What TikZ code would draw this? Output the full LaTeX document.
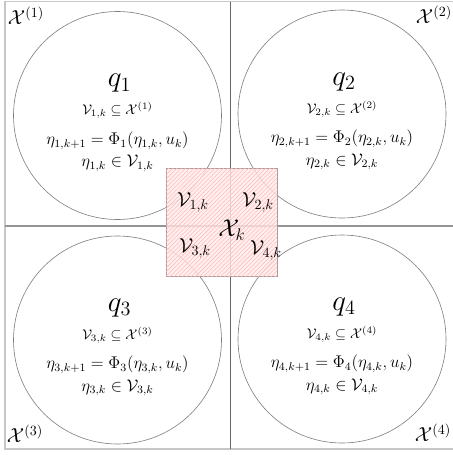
\documentclass[tikz,border=0pt]{standalone}
\usepackage{amsmath,amssymb}
\usetikzlibrary{patterns}
\begin{document}
\begin{tikzpicture}[x=0.025cm, y=-0.025cm,
    frame/.style={draw=black!22, line width=1.3pt},
    divider/.style={draw=black!60, line width=0.7pt},
    mode/.style={draw=black!50, line width=0.45pt},
    overlap/.style={draw=red!25!black!40, line width=0.6pt, fill=red!8, fill opacity=0.8,
        postaction={pattern=north east lines, pattern color=red!26}},
    qlabel/.style={font=\huge, inner sep=0pt},
    eq/.style={font=\large, inner sep=0pt},
    setlabel/.style={font=\Large, inner sep=0pt}]
    \useasboundingbox (0,0) rectangle (453,455);
    \clip (0,0) rectangle (453,455);

    % state space split in four regions
    \draw[frame] (5,1.5) rectangle (458,449);
    \draw[divider] (230,1.5) -- (230,449);
    \draw[divider, draw=black!42, line width=1.1pt] (5,226) -- (458,226);

    % one mode per region
    \foreach \i/\cx/\cy in {1/117.5/115.5, 2/342/114, 3/117.5/340, 4/342/339}{
        \draw[mode] (\cx,\cy) circle (104);
        \node[qlabel] (q\i) at (\cx+2,\cy-32) {$q_\i$};
        \node[eq, font=\normalsize] (sub\i) at (\cx,\cy-5) {$\mathcal{V}_{\i,k}\subseteq\mathcal{X}^{(\i)}$};
        \node[eq] (dyn\i) at (\cx,\cy+25) {$\eta_{\i,k+1}=\Phi_\i(\eta_{\i,k},u_k)$};
        \node[eq] (mem\i) at (\cx,\cy+48) {$\eta_{\i,k}\in\mathcal{V}_{\i,k}$};
    }

    % corner labels
    \node[setlabel] (X1) at (26,16) {$\mathcal{X}^{(1)}$};
    \node[setlabel] (X2) at (434,15) {$\mathcal{X}^{(2)}$};
    \node[setlabel] (X3) at (25,434) {$\mathcal{X}^{(3)}$};
    \node[setlabel] (X4) at (433,433) {$\mathcal{X}^{(4)}$};

    % shared region
    \draw[overlap] (166,168) rectangle (277,276);
    \node[setlabel] (V1) at (193,202) {$\mathcal{V}_{1,k}$};
    \node[setlabel] (V2) at (258,202) {$\mathcal{V}_{2,k}$};
    \node[setlabel, font=\LARGE] (Xk) at (232,230) {$\mathcal{X}_k$};
    \node[setlabel] (V3) at (195,248) {$\mathcal{V}_{3,k}$};
    \node[setlabel] (V4) at (266,250) {$\mathcal{V}_{4,k}$};
\end{tikzpicture}
\end{document}
